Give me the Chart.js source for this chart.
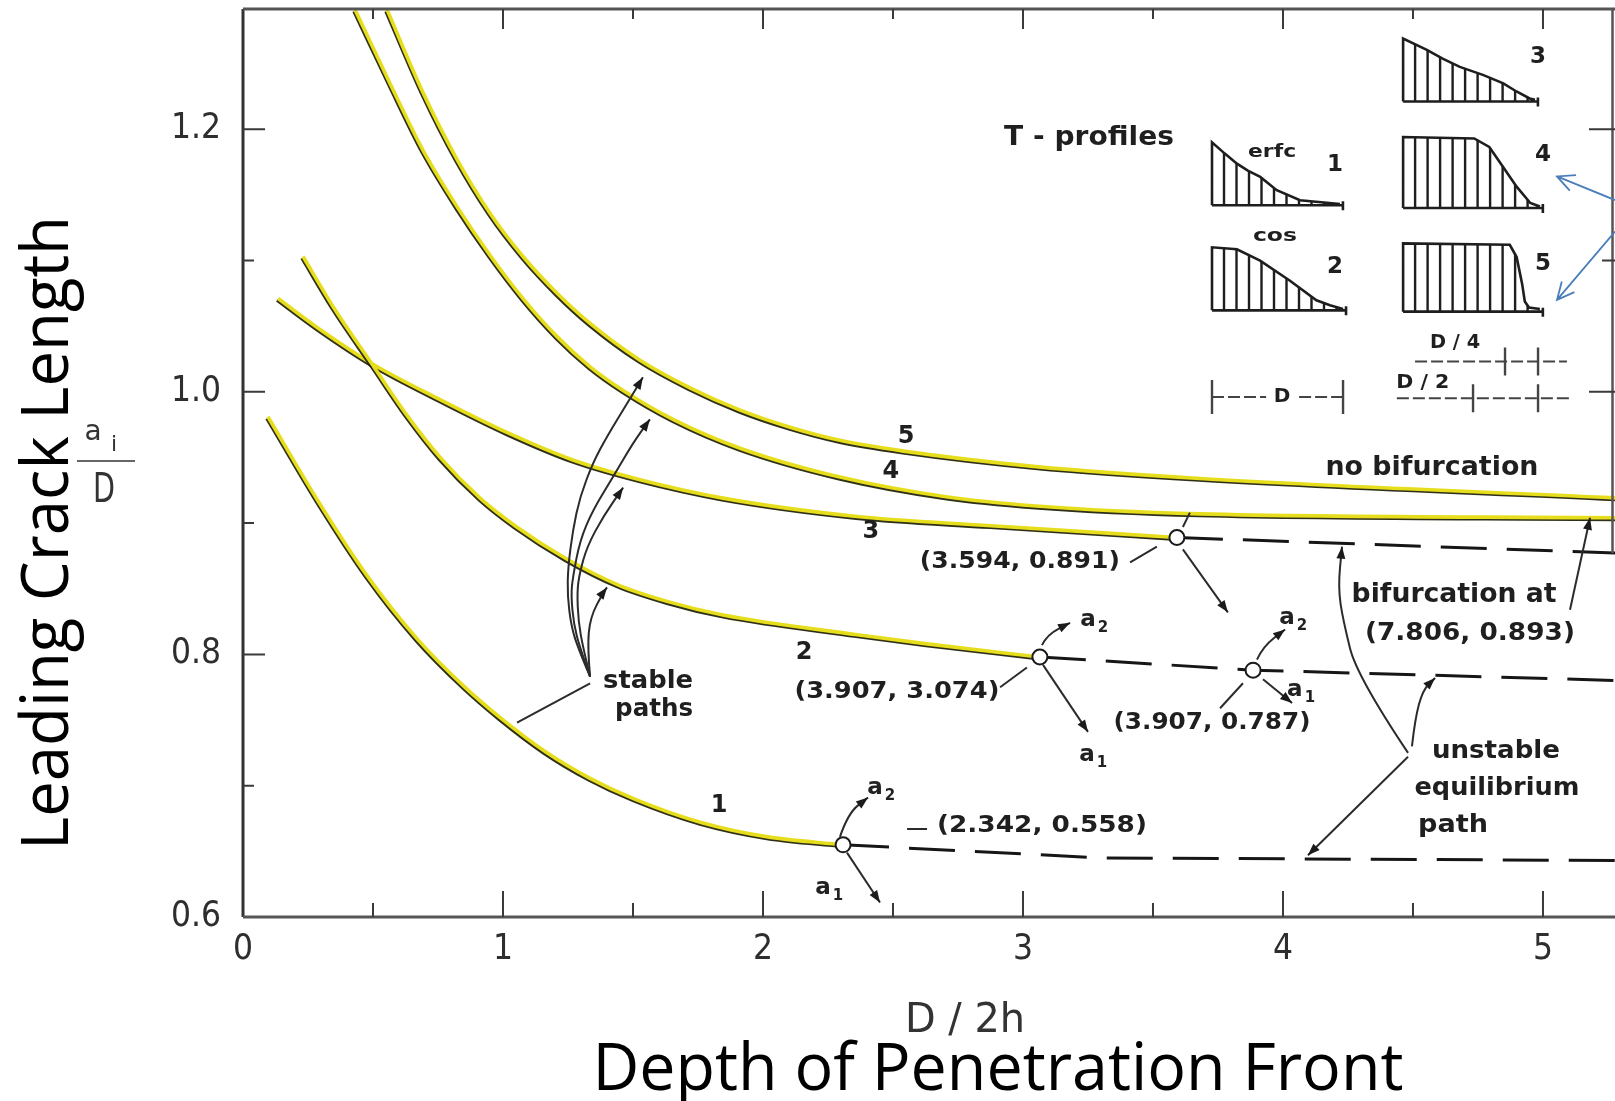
<!doctype html>
<html>
<head>
<meta charset="utf-8">
<title>Leading crack length vs depth of penetration front</title>
<script src="https://cdn.jsdelivr.net/npm/chart.js@4/dist/chart.umd.min.js"></script>
<style>
  html, body { margin: 0; padding: 0; background: #fff; overflow: hidden; }
  #wrap { width: 1615px; height: 1101px; }
  canvas { display: block; }
</style>
</head>
<body>
<div id="wrap"><canvas id="chart"></canvas></div>
<script>
// axis ticks
const xTicks = [0, 1, 2, 3, 4, 5];
const yTicks = [0.6, 0.8, 1.0, 1.2];

// stable paths for the five T-profiles (x = D/2h, y = a_i/D)
const path1X = [0.096, 0.285, 0.477, 0.669, 0.848, 0.988, 1.162, 1.331, 1.504, 1.762, 2.019, 2.308];
const path1Y = [0.981, 0.918, 0.860, 0.812, 0.776, 0.752, 0.726, 0.706, 0.690, 0.672, 0.661, 0.655];
const path2X = [0.231, 0.346, 0.500, 0.631, 0.758, 0.912, 1.046, 1.242, 1.442, 1.638, 1.846, 2.362, 2.631, 3.065];
const path2Y = [1.103, 1.065, 1.020, 0.982, 0.950, 0.919, 0.898, 0.873, 0.853, 0.840, 0.830, 0.815, 0.808, 0.798];
const path3X = [0.135, 0.285, 0.500, 0.758, 1.015, 1.269, 1.527, 1.846, 2.362, 2.877, 3.592];
const path3Y = [1.071, 1.049, 1.021, 0.994, 0.969, 0.948, 0.933, 0.919, 0.905, 0.898, 0.889];
const path4X = [0.431, 0.565, 0.692, 0.823, 0.950, 1.077, 1.208, 1.335, 1.462, 1.654, 1.912, 2.296, 2.704, 3.050, 3.681, 5.3];
const path4Y = [1.291, 1.235, 1.184, 1.141, 1.104, 1.071, 1.042, 1.019, 1.001, 0.979, 0.957, 0.935, 0.920, 0.913, 0.907, 0.904];
const path5X = [0.554, 0.692, 0.823, 0.950, 1.077, 1.208, 1.335, 1.527, 1.719, 1.912, 2.104, 2.296, 2.535, 3.050, 3.681, 5.3];
const path5Y = [1.291, 1.228, 1.177, 1.136, 1.103, 1.075, 1.052, 1.024, 1.003, 0.986, 0.973, 0.963, 0.955, 0.943, 0.934, 0.919];

// unstable equilibrium paths (dashed)
const unstable1X = [2.308, 3.3, 5.3];
const unstable1Y = [0.655, 0.645, 0.643];
const unstable2X = [3.065, 3.885, 5.3];
const unstable2Y = [0.798, 0.788, 0.780];
const unstable3X = [3.592, 5.3];
const unstable3Y = [0.889, 0.877];

// bifurcation points
const bifX = [2.308, 3.065, 3.592, 3.885];
const bifY = [0.655, 0.798, 0.889, 0.788];

// ---- annotations (data units) ----
const notes = [
  // text, x, y, fitted width (0 = natural), font size
  ['5', 2.550, 0.966, 0, 24], ['4', 2.492, 0.939, 0, 24], ['3', 2.415, 0.893, 0, 24],
  ['2', 2.158, 0.801, 0, 24], ['1', 1.831, 0.685, 0, 24],
  ['no bifurcation', 4.573, 0.942, 213, 26],
  ['(3.594, 0.891)', 2.988, 0.870, 200, 23],
  ['stable', 1.558, 0.779, 90, 24], ['paths', 1.581, 0.758, 78, 24],
  ['(3.907, 3.074)', 2.515, 0.771, 205, 23],
  ['(2.342, 0.558)', 3.073, 0.669, 210, 23],
  ['(3.907, 0.787)', 3.727, 0.748, 197, 23],
  ['bifurcation at', 4.658, 0.845, 205, 26],
  ['(7.806, 0.893)', 4.719, 0.816, 210, 24],
  ['unstable', 4.819, 0.726, 128, 25],
  ['equilibrium', 4.823, 0.698, 165, 25],
  ['path', 4.654, 0.670, 70, 25],
  ['T - profiles', 3.254, 1.193, 170, 27],
  ['erfc', 3.958, 1.182, 48, 18], ['cos', 3.969, 1.118, 44, 18],
  ['1', 4.200, 1.173, 0, 23], ['2', 4.200, 1.095, 0, 23], ['3', 4.981, 1.255, 0, 23],
  ['4', 5.000, 1.180, 0, 23], ['5', 5.000, 1.097, 0, 23],
  ['D / 4', 4.662, 1.037, 50, 20], ['D / 2', 4.538, 1.007, 53, 20], ['D', 3.996, 0.996, 0, 20]
];

// branch labels a1 / a2: x, y, subscript
const branchLabels = [
  [2.450, 0.698, '2'], [2.250, 0.622, '1'],
  [3.269, 0.826, '2'], [3.265, 0.723, '1'],
  [4.035, 0.828, '2'], [4.065, 0.773, '1']
];

// leader lines; arrow = arrowhead at the last point
const leaders = [
  { arrow: true, pts: [[1.335,0.783],[1.288,0.805],[1.262,0.822],[1.248,0.845],[1.250,0.866],[1.269,0.895],[1.296,0.920],[1.346,0.946],[1.400,0.966],[1.477,0.991],[1.538,1.011]] },
  { arrow: true, pts: [[1.335,0.783],[1.296,0.805],[1.272,0.823],[1.262,0.845],[1.268,0.858],[1.296,0.887],[1.346,0.910],[1.423,0.935],[1.500,0.961],[1.565,0.979]] },
  { arrow: true, pts: [[1.335,0.783],[1.308,0.805],[1.290,0.825],[1.285,0.848],[1.295,0.862],[1.323,0.882],[1.385,0.905],[1.462,0.927]] },
  { arrow: true, pts: [[1.335,0.783],[1.325,0.805],[1.335,0.828],[1.385,0.847],[1.400,0.851]] },
  { arrow: false, pts: [[1.335,0.778],[1.054,0.748]] },
  { arrow: true, pts: [[2.296,0.661],[2.327,0.679],[2.404,0.691]] },
  { arrow: true, pts: [[2.323,0.649],[2.450,0.611]] },
  { arrow: false, pts: [[2.554,0.667],[2.631,0.667]] },
  { arrow: true, pts: [[3.073,0.807],[3.092,0.815],[3.181,0.824]] },
  { arrow: true, pts: [[3.077,0.792],[3.250,0.741]] },
  { arrow: false, pts: [[3.015,0.790],[2.912,0.775]] },
  { arrow: false, pts: [[3.615,0.897],[3.642,0.908]] },
  { arrow: true, pts: [[3.615,0.880],[3.788,0.832]] },
  { arrow: false, pts: [[3.515,0.882],[3.412,0.870]] },
  { arrow: true, pts: [[3.900,0.796],[3.923,0.806],[4.008,0.819]] },
  { arrow: true, pts: [[3.923,0.781],[4.035,0.763]] },
  { arrow: false, pts: [[3.846,0.778],[3.758,0.759]] },
  { arrow: true, pts: [[4.481,0.725],[4.285,0.783],[4.231,0.826],[4.212,0.851],[4.227,0.882]] },
  { arrow: true, pts: [[4.496,0.730],[4.508,0.751],[4.538,0.773],[4.585,0.782]] },
  { arrow: true, pts: [[4.481,0.722],[4.096,0.647]] },
  { arrow: true, pts: [[5.104,0.834],[5.181,0.904]] }
];

// inset T-profiles: box in data units, shape as [fraction of width, fraction of height]
const profiles = [
  { x0: 3.727, x1: 4.219, yTop: 1.190, yBot: 1.142, shape: [[0,1],[0.1,0.82],[0.195,0.66],[0.28,0.55],[0.377,0.45],[0.506,0.24],[0.688,0.08],[1,0.02]] },
  { x0: 3.727, x1: 4.231, yTop: 1.110, yBot: 1.062, shape: [[0,1],[0.19,0.97],[0.367,0.79],[0.595,0.47],[0.797,0.16],[0.9,0.08],[1,0.02]] },
  { x0: 4.462, x1: 4.969, yTop: 1.269, yBot: 1.221, shape: [[0,1],[0.18,0.82],[0.30,0.68],[0.43,0.55],[0.61,0.42],[0.76,0.29],[0.86,0.16],[0.96,0.05],[1,0.03]] },
  { x0: 4.462, x1: 4.988, yTop: 1.194, yBot: 1.140, shape: [[0,1],[0.52,0.98],[0.63,0.86],[0.73,0.58],[0.83,0.30],[0.93,0.07],[1,0.02]] },
  { x0: 4.462, x1: 4.988, yTop: 1.113, yBot: 1.061, shape: [[0,1],[0.78,0.98],[0.83,0.80],[0.87,0.41],[0.89,0.15],[0.92,0.06],[1,0.04]] }
];

const INK = '#222';
const YELLOW = '#e6de1c';
const scanFont = '"DejaVu Sans", sans-serif';
const series = (xs, ys) => xs.map((x, i) => ({ x: x, y: ys[i] }));

function pathSet(label, xs, ys) {
  return { label: label, data: series(xs, ys), showLine: true, borderColor: YELLOW, borderWidth: 3.6,
    pointRadius: 0, cubicInterpolationMode: 'monotone', fill: false, order: 3, inked: true };
}
function dashSet(label, xs, ys) {
  return { label: label, data: series(xs, ys), showLine: true, borderColor: '#161616', borderWidth: 3,
    borderDash: [46, 20], pointRadius: 0, fill: false, order: 2 };
}

function fitText(c, text, x, y, font, width, opts) {
  opts = opts || {};
  c.save();
  c.font = font;
  c.fillStyle = opts.color || INK;
  c.textAlign = 'center';
  c.textBaseline = opts.baseline || 'middle';
  const w = c.measureText(text).width;
  const k = width ? width / w : 1;
  c.translate(x, y);
  if (opts.rotate) c.rotate(opts.rotate);
  c.scale(k, 1);
  c.fillText(text, 0, 0);
  c.restore();
}

function arrowHead(c, from, to, len, half) {
  const a = Math.atan2(to[1] - from[1], to[0] - from[0]);
  const bx = to[0] - len * Math.cos(a), by = to[1] - len * Math.sin(a);
  c.beginPath();
  c.moveTo(to[0], to[1]);
  c.lineTo(bx + half * Math.sin(a), by - half * Math.cos(a));
  c.lineTo(bx - half * Math.sin(a), by + half * Math.cos(a));
  c.closePath();
  c.fill();
}

function smoothLine(c, pts) {
  c.beginPath();
  c.moveTo(pts[0][0], pts[0][1]);
  for (let i = 1; i < pts.length - 1; i++) {
    c.quadraticCurveTo(pts[i][0], pts[i][1], (pts[i][0] + pts[i + 1][0]) / 2, (pts[i][1] + pts[i + 1][1]) / 2);
  }
  c.lineTo(pts[pts.length - 1][0], pts[pts.length - 1][1]);
  c.stroke();
}

// black ink line under the yellow highlight
const inkPlugin = {
  id: 'ink',
  beforeDatasetDraw(chart, args) {
    if (!chart.data.datasets[args.index].inked) return;
    const c = chart.ctx;
    c.save();
    c.shadowColor = 'rgba(25,25,0,0.9)';
    c.shadowOffsetX = -1;
    c.shadowOffsetY = 1.6;
    c.shadowBlur = 0;
  },
  afterDatasetDraw(chart, args) {
    if (chart.data.datasets[args.index].inked) chart.ctx.restore();
  }
};

const figurePlugin = {
  id: 'figure',
  afterDatasetsDraw(chart) {
    const c = chart.ctx, sx = chart.scales.x, sy = chart.scales.y, a = chart.chartArea;
    const P = (x, y) => [sx.getPixelForValue(x), sy.getPixelForValue(y)];
    c.save();

    // frame
    c.strokeStyle = '#333';
    c.lineWidth = 3;
    c.beginPath();
    c.moveTo(a.left, a.top); c.lineTo(a.left, a.bottom);
    c.stroke();
    c.strokeStyle = '#555';
    c.beginPath();
    c.moveTo(a.left, a.bottom); c.lineTo(a.right, a.bottom);
    c.moveTo(a.left, a.top); c.lineTo(a.right, a.top);
    c.stroke();
    c.lineWidth = 2.5;
    c.beginPath();
    c.moveTo(a.right - 2.5, a.top); c.lineTo(a.right - 2.5, sy.getPixelForValue(0.877));
    c.stroke();

    // inward ticks
    c.strokeStyle = '#3a3a3a';
    c.lineWidth = 2;
    c.beginPath();
    for (let v = 0.5; v < 5.2; v += 0.5) {
      const px = sx.getPixelForValue(v), major = Math.abs(v - Math.round(v)) < 1e-6;
      c.moveTo(px, a.bottom); c.lineTo(px, a.bottom - (major ? 26 : 14));
      c.moveTo(px, a.top); c.lineTo(px, a.top + (major ? 20 : 10));
    }
    for (let v = 0.7; v < 1.25; v += 0.1) {
      const py = sy.getPixelForValue(v), major = Math.round(v * 10) % 2 === 0;
      c.moveTo(a.left, py); c.lineTo(a.left + (major ? 22 : 11), py);
      if (v > 0.95) { c.moveTo(a.right, py); c.lineTo(a.right - (major ? 26 : 13), py); }
    }
    c.stroke();

    // leader lines and branch arrows
    c.strokeStyle = '#2b2b2b';
    c.fillStyle = '#1b1b1b';
    c.lineWidth = 2;
    leaders.forEach(l => {
      const pts = l.pts.map(p => P(p[0], p[1]));
      smoothLine(c, pts);
      if (l.arrow) arrowHead(c, pts[pts.length - 2], pts[pts.length - 1], 12, 4.5);
    });

    // branch labels a1 / a2
    branchLabels.forEach(b => {
      const p = P(b[0], b[1]);
      fitText(c, 'a', p[0] - 5, p[1], 'bold 23px ' + scanFont, 0);
      fitText(c, b[2], p[0] + 10, p[1] + 8, 'bold 15px ' + scanFont, 0);
    });

    // inset: T-profiles
    c.strokeStyle = '#1e1e1e';
    profiles.forEach(pr => {
      const [x0, yb] = P(pr.x0, pr.yBot), [x1, yt] = P(pr.x1, pr.yTop);
      const w = x1 - x0, h = yb - yt;
      const hAt = t => {
        const s = pr.shape;
        for (let i = 1; i < s.length; i++) {
          if (t <= s[i][0]) {
            const f = (t - s[i - 1][0]) / (s[i][0] - s[i - 1][0]);
            return s[i - 1][1] + f * (s[i][1] - s[i - 1][1]);
          }
        }
        return s[s.length - 1][1];
      };
      c.lineWidth = 2.6;
      c.beginPath();
      c.moveTo(x0, yb);
      pr.shape.forEach(s => c.lineTo(x0 + s[0] * w, yb - s[1] * h));
      c.moveTo(x0, yb); c.lineTo(x1 + 3, yb);
      c.moveTo(x1 + 3, yb - 4); c.lineTo(x1 + 3, yb + 5);
      c.stroke();
      c.lineWidth = 2.4;
      c.beginPath();
      for (let x = x0 + 12; x < x1 - 4; x += 12.5) {
        c.moveTo(x, yb); c.lineTo(x, yb - hAt((x - x0) / w) * h);
      }
      c.stroke();
    });

    // inset dimension lines
    c.lineWidth = 2;
    c.strokeStyle = '#444';
    const dims = [
      { y: 0.996, segs: [[3.727, 3.935], [4.062, 4.231]], bars: [3.727, 4.231], barH: 17 },
      { y: 0.995, segs: [[4.438, 5.104]], bars: [4.731, 4.981], barH: 14 },
      { y: 1.023, segs: [[4.508, 5.092]], bars: [4.854, 4.981], barH: 14 }
    ];
    dims.forEach(d => {
      const py = sy.getPixelForValue(d.y);
      c.setLineDash([12, 4]);
      c.beginPath();
      d.segs.forEach(s => { c.moveTo(sx.getPixelForValue(s[0]), py); c.lineTo(sx.getPixelForValue(s[1]), py); });
      c.stroke();
      c.setLineDash([]);
      c.lineWidth = 2.4;
      c.beginPath();
      d.bars.forEach(b => { const px = sx.getPixelForValue(b); c.moveTo(px, py - d.barH); c.lineTo(px, py + d.barH); });
      c.stroke();
      c.lineWidth = 2;
    });

    // text notes
    notes.forEach(n => {
      const p = P(n[1], n[2]);
      fitText(c, n[0], p[0], p[1], 'bold ' + n[4] + 'px ' + scanFont, n[3], { color: '#1f1f1f' });
    });

    // blue call-out arrows
    c.strokeStyle = '#4a7ebb';
    c.lineWidth = 1.8;
    [[[5.277, 1.146], [5.054, 1.164]], [[5.277, 1.122], [5.054, 1.070]]].forEach(seg => {
      const s = P(seg[0][0], seg[0][1]), t = P(seg[1][0], seg[1][1]);
      const ang = Math.atan2(s[1] - t[1], s[0] - t[0]);
      c.beginPath();
      c.moveTo(s[0], s[1]); c.lineTo(t[0], t[1]);
      c.moveTo(t[0] + 19 * Math.cos(ang + 0.45), t[1] + 19 * Math.sin(ang + 0.45));
      c.lineTo(t[0], t[1]);
      c.lineTo(t[0] + 19 * Math.cos(ang - 0.45), t[1] + 19 * Math.sin(ang - 0.45));
      c.stroke();
    });
    c.restore();
  },
  afterDraw(chart) {
    const c = chart.ctx;
    // outer axis titles
    fitText(c, 'Leading Crack Length', 68, 533, '66px "Open Sans", sans-serif', 634,
      { color: '#000', baseline: 'alphabetic', rotate: -Math.PI / 2 });
    fitText(c, 'Depth of Penetration Front', 998, 1090, '66px "Open Sans", sans-serif', 811,
      { color: '#000', baseline: 'alphabetic' });
    // small scanned axis labels
    fitText(c, 'D / 2h', 965, 1032, '40px "DejaVu Sans Condensed", sans-serif', 120,
      { color: '#333', baseline: 'alphabetic' });
    fitText(c, 'a', 93, 440, '28px "DejaVu Sans", sans-serif', 0, { color: '#333', baseline: 'alphabetic' });
    fitText(c, 'i', 114, 451, '22px "DejaVu Sans", sans-serif', 0, { color: '#333', baseline: 'alphabetic' });
    c.save();
    c.strokeStyle = '#666';
    c.lineWidth = 2;
    c.beginPath(); c.moveTo(77, 461); c.lineTo(135, 461); c.stroke();
    c.restore();
    fitText(c, 'D', 104, 502, '40px "DejaVu Sans Condensed", sans-serif', 22, { color: '#333', baseline: 'alphabetic' });
  }
};

const tickFont = { family: '"DejaVu Sans Condensed", "DejaVu Sans", sans-serif', size: 35 };
const noPadding = s => { s.paddingLeft = 0; s.paddingRight = 0; s.paddingTop = 0; s.paddingBottom = 0; };

new Chart(document.getElementById('chart'), {
  type: 'scatter',
  data: {
    datasets: [
      { label: 'bifurcation', data: series(bifX, bifY), showLine: false, pointRadius: 7.5,
        pointBackgroundColor: '#fff', pointBorderColor: '#1a1a1a', pointBorderWidth: 2, order: 1 },
      dashSet('unstable 1', unstable1X, unstable1Y),
      dashSet('unstable 2', unstable2X, unstable2Y),
      dashSet('unstable 3', unstable3X, unstable3Y),
      pathSet('1', path1X, path1Y),
      pathSet('2', path2X, path2Y),
      pathSet('3', path3X, path3Y),
      pathSet('4', path4X, path4Y),
      pathSet('5', path5X, path5Y)
    ]
  },
  options: {
    responsive: true,
    maintainAspectRatio: false,
    animation: false,
    layout: { autoPadding: false, padding: { top: 9, left: 0, right: 0, bottom: 0 } },
    plugins: { legend: { display: false }, tooltip: { enabled: false } },
    scales: {
      x: {
        type: 'linear', min: 0, max: 5.277,
        grid: { display: false, drawTicks: false }, border: { display: false },
        ticks: { font: tickFont, color: '#2e2e2e', padding: 12, maxRotation: 0, autoSkip: false,
          callback: v => String(v) },
        afterBuildTicks: s => { s.ticks = xTicks.map(v => ({ value: v })); },
        afterFit: s => { s.height = 184; noPadding(s); }
      },
      y: {
        type: 'linear', min: 0.6, max: 1.2915,
        grid: { display: false, drawTicks: false }, border: { display: false },
        ticks: { font: tickFont, color: '#2e2e2e', padding: 22, autoSkip: false,
          callback: v => Number(v).toFixed(1) },
        afterBuildTicks: s => { s.ticks = yTicks.map(v => ({ value: v })); },
        afterFit: s => { s.width = 243; noPadding(s); }
      }
    }
  },
  plugins: [inkPlugin, figurePlugin]
});
</script>
</body>
</html>
